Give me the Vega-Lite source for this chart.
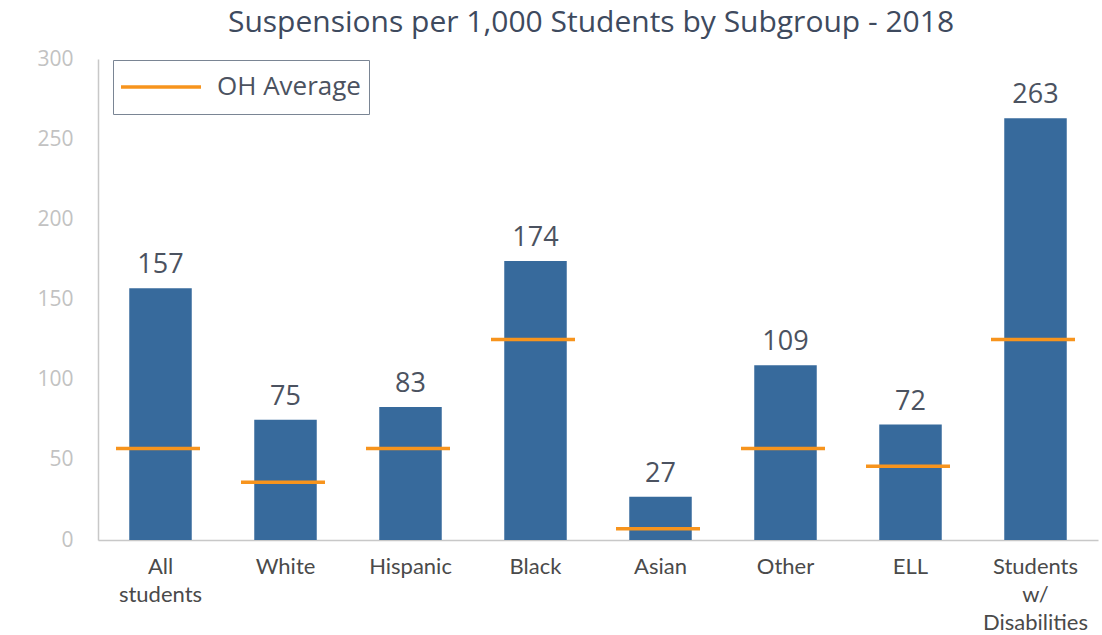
{
  "$schema": "https://vega.github.io/schema/vega-lite/v6.json",
  "autosize": {"type": "none"},
  "width": 1000,
  "height": 481,
  "padding": {"left": 98, "top": 59, "right": 4, "bottom": 95},
  "background": "white",
  "title": {
    "text": "Suspensions per 1,000 Students by Subgroup - 2018",
    "font": "Open Sans",
    "fontSize": 30,
    "fontWeight": "normal",
    "color": "#3e4a5e",
    "anchor": "middle",
    "offset": 10,
    "dx": -7
  },
  "config": {"view": {"stroke": null}},
  "data": {
    "values": [
      {"group": "All students", "rate": 157, "oh": 57},
      {"group": "White", "rate": 75, "oh": 36},
      {"group": "Hispanic", "rate": 83, "oh": 57},
      {"group": "Black", "rate": 174, "oh": 125},
      {"group": "Asian", "rate": 27, "oh": 7},
      {"group": "Other", "rate": 109, "oh": 57},
      {"group": "ELL", "rate": 72, "oh": 46},
      {"group": "Students w/ Disabilities", "rate": 263, "oh": 125}
    ]
  },
  "encoding": {
    "x": {
      "field": "group",
      "type": "nominal",
      "sort": null,
      "scale": {"paddingInner": 0.5, "paddingOuter": 0.25},
      "axis": {
        "title": null,
        "labelAngle": 0,
        "labelExpr": "split(datum.value, ' ')",
        "labelFont": "Lato",
        "labelFontSize": 22,
        "labelColor": "#4a4a4a",
        "labelLineHeight": 28,
        "labelPadding": 16,
        "ticks": false,
        "domainColor": "#c8c8c8",
        "domainWidth": 1.5
      }
    }
  },
  "layer": [
    {
      "mark": {"type": "bar", "color": "#376a9c"},
      "encoding": {
        "y": {
          "field": "rate",
          "type": "quantitative",
          "scale": {"domain": [0, 300], "nice": false},
          "axis": {
            "title": null,
            "values": [0, 50, 100, 150, 200, 250, 300],
            "grid": false,
            "ticks": false,
            "labelFont": "Open Sans",
            "labelFontSize": 21,
            "labelColor": "#c2c2c2",
            "labelPadding": 25,
            "domainColor": "#c8c8c8",
            "domainWidth": 1.5
          }
        }
      }
    },
    {
      "mark": {"type": "text", "baseline": "bottom", "dy": -9, "font": "Open Sans", "fontSize": 27, "color": "#4b5260"},
      "encoding": {
        "y": {"field": "rate", "type": "quantitative"},
        "text": {"field": "rate", "type": "quantitative"}
      }
    },
    {
      "mark": {"type": "rule", "strokeWidth": 3.5},
      "encoding": {
        "x": {"field": "group", "type": "nominal", "sort": null, "bandPosition": -0.212},
        "x2": {"field": "group", "bandPosition": 1.132},
        "y": {"field": "oh", "type": "quantitative"},
        "stroke": {
          "datum": "OH Average",
          "type": "nominal",
          "scale": {"range": ["#f7941d"]},
          "legend": {
            "title": null,
            "orient": "none",
            "legendX": 15,
            "legendY": 1,
            "symbolType": "stroke",
            "symbolSize": 7056,
            "symbolStrokeWidth": 3.5,
            "symbolOffset": -6,
            "clipHeight": 38,
            "labelFont": "Open Sans",
            "labelFontSize": 26,
            "labelColor": "#4b5260",
            "labelOffset": 14,
            "strokeColor": "#7a8594",
            "padding": 8,
            "cornerRadius": 0
          }
        }
      }
    }
  ]
}
